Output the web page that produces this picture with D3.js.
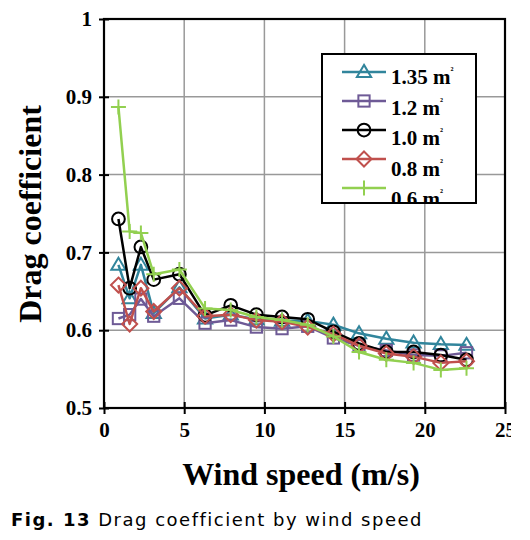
<!DOCTYPE html>
<html><head><meta charset="utf-8">
<script src="https://cdn.jsdelivr.net/npm/d3@7"></script>
<style>body{margin:0;background:#fff;} svg{display:block;}</style>
</head><body>
<script>
const windSpeed = [0.9,1.6,2.3,3.1,4.7,6.3,7.9,9.5,11.1,12.7,14.3,15.9,17.6,19.3,21.0,22.6];
const s135 = [0.684,0.641,0.684,0.622,0.655,0.615,0.62,0.614,0.612,0.612,0.607,0.596,0.589,0.584,0.582,0.581];
const s12  = [0.615,0.62,0.64,0.618,0.641,0.609,0.613,0.604,0.602,0.605,0.59,0.58,0.574,0.568,0.567,0.571];
const s10  = [0.743,0.654,0.707,0.665,0.672,0.619,0.632,0.62,0.617,0.614,0.598,0.583,0.572,0.572,0.568,0.562];
const s08  = [0.658,0.608,0.654,0.624,0.654,0.618,0.62,0.613,0.611,0.604,0.595,0.58,0.57,0.566,0.558,0.56];
const s06  = [0.887,0.727,0.725,0.672,0.678,0.628,0.626,0.617,0.613,0.607,0.592,0.572,0.562,0.558,0.549,0.551];
const seriesNames = ["1.35","1.2","1.0","0.8","0.6"];
const xTicks = [0,5,10,15,20,25];
const yTicks = [0.5,0.6,0.7,0.8,0.9,1];

const series = [
  {name:seriesNames[0], values:s135, color:"#31859C", marker:"triangle"},
  {name:seriesNames[1], values:s12,  color:"#6E5A96", marker:"square"},
  {name:seriesNames[2], values:s10,  color:"#000000", marker:"circle"},
  {name:seriesNames[3], values:s08,  color:"#C0504D", marker:"diamond"},
  {name:seriesNames[4], values:s06,  color:"#92D050", marker:"plus"}
];

const W=530, H=540;
const svg = d3.select("body").append("svg").attr("width",W).attr("height",H);
svg.append("defs").append("clipPath").attr("id","pageclip")
  .append("rect").attr("x",0).attr("y",0).attr("width",511).attr("height",H);
const root = svg.append("g").attr("clip-path","url(#pageclip)");

const L=104, R=505, T=19, B=408;
const x = d3.scaleLinear().domain([0,25]).range([L,R]);
const y = d3.scaleLinear().domain([0.5,1]).range([B,T]);
const serif = "'Liberation Serif','Times New Roman',serif";

// grid
root.append("g").selectAll("line").data(xTicks.slice(1,-1)).join("line")
  .attr("x1",d=>x(d)).attr("x2",d=>x(d)).attr("y1",T).attr("y2",B)
  .attr("stroke","#999").attr("stroke-width",1.5);
root.append("g").selectAll("line").data(yTicks.slice(1,-1)).join("line")
  .attr("x1",L).attr("x2",R).attr("y1",d=>y(d)).attr("y2",d=>y(d))
  .attr("stroke","#999").attr("stroke-width",1.5);

// axes
const xAxis = root.append("g").attr("transform",`translate(0,${B})`)
  .call(d3.axisBottom(x).tickValues(xTicks).tickSize(6).tickFormat(d3.format("d")));
xAxis.selectAll(".tick line").attr("y1",-6).attr("y2",6).attr("stroke-width",2);
xAxis.select(".domain").remove();
xAxis.selectAll("text").attr("y",14).attr("dy","0.71em")
  .attr("font-family",serif).attr("font-weight","bold").attr("font-size",21).attr("fill","#000");

const yAxis = root.append("g").attr("transform",`translate(${L},0)`)
  .call(d3.axisLeft(y).tickValues(yTicks).tickSize(6).tickFormat(d=>d===1?"1":d3.format(".1f")(d)));
yAxis.selectAll(".tick line").attr("x1",-5).attr("x2",5).attr("stroke-width",2);
yAxis.select(".domain").remove();
yAxis.selectAll("text").attr("x",-12)
  .attr("font-family",serif).attr("font-weight","bold").attr("font-size",21).attr("fill","#000");

// frame
root.append("rect").attr("x",L).attr("y",T).attr("width",R-L).attr("height",B-T)
  .attr("fill","none").attr("stroke","#000").attr("stroke-width",2.2);

// markers
function drawMarker(g, type, color, size){
  const s=size;
  if(type==="triangle"){
    g.append("path").attr("d",`M0,${-s*0.95}L${s*0.95},${s*0.65}L${-s*0.95},${s*0.65}Z`)
      .attr("fill","none").attr("stroke",color).attr("stroke-width",2);
  } else if(type==="square"){
    g.append("rect").attr("x",-s*0.75).attr("y",-s*0.75).attr("width",s*1.5).attr("height",s*1.5)
      .attr("fill","none").attr("stroke",color).attr("stroke-width",2);
  } else if(type==="circle"){
    g.append("circle").attr("r",s*0.85).attr("fill","none").attr("stroke",color).attr("stroke-width",2);
  } else if(type==="diamond"){
    g.append("path").attr("d",`M0,${-s}L${s},0L0,${s}L${-s},0Z`)
      .attr("fill","none").attr("stroke",color).attr("stroke-width",2);
  } else if(type==="plus"){
    g.append("path").attr("d",`M${-s},0H${s}M0,${-s}V${s}`)
      .attr("fill","none").attr("stroke",color).attr("stroke-width",2);
  }
}

const line = d3.line().x(d=>x(d[0])).y(d=>y(d[1]));
series.forEach(s=>{
  const pts = windSpeed.map((w,i)=>[w,s.values[i]]);
  const g = root.append("g");
  g.append("path").datum(pts).attr("d",line).attr("fill","none")
    .attr("stroke",s.color).attr("stroke-width",2.5).attr("stroke-linejoin","round");
  pts.forEach(p=>{
    const mg = g.append("g").attr("transform",`translate(${x(p[0])},${y(p[1])})`);
    drawMarker(mg, s.marker, s.color, 7.5);
  });
});

// legend
const lg = root.append("g");
const lx=322, ly=54, lw=154, lh=149;
lg.append("defs").append("clipPath").attr("id","legclip")
  .append("rect").attr("x",lx).attr("y",ly).attr("width",lw).attr("height",lh);
lg.append("rect").attr("x",lx).attr("y",ly).attr("width",lw).attr("height",lh)
  .attr("fill","#fff");
const rowY = d3.scalePoint().domain(seriesNames).range([72,188]);
const textY = d3.scalePoint().domain(seriesNames).range([84,206]);
const lgc = lg.append("g").attr("clip-path","url(#legclip)");
series.forEach(s=>{
  const yy = rowY(s.name);
  lgc.append("line").attr("x1",342).attr("x2",386).attr("y1",yy).attr("y2",yy)
    .attr("stroke",s.color).attr("stroke-width",2.5);
  const mg = lgc.append("g").attr("transform",`translate(364,${yy})`);
  drawMarker(mg, s.marker, s.color, 7.5);
  const t = lgc.append("text").attr("x",391).attr("y",textY(s.name))
    .attr("font-family",serif).attr("font-weight","bold").attr("font-size",21).attr("fill","#000");
  t.append("tspan").text(s.name+" m");
  t.append("tspan").attr("font-size",10).attr("dy",-10).text("²");
});
lg.append("rect").attr("x",lx).attr("y",ly).attr("width",lw).attr("height",lh)
  .attr("fill","none").attr("stroke","#000").attr("stroke-width",2);

// axis titles
root.append("text").attr("x",301).attr("y",485).attr("text-anchor","middle")
  .attr("font-family",serif).attr("font-weight","bold").attr("font-size",32).attr("fill","#000")
  .text("Wind speed (m/s)");
root.append("text").attr("transform","translate(41,214) rotate(-90)").attr("text-anchor","middle")
  .attr("font-family",serif).attr("font-weight","bold").attr("font-size",32).attr("fill","#000")
  .text("Drag coefficient");

// caption
const cap = root.append("text").attr("x",11).attr("y",526).attr("letter-spacing",1.5)
  .attr("font-family","'DejaVu Sans','Liberation Sans',sans-serif").attr("font-size",18).attr("fill","#000");
cap.append("tspan").attr("font-weight","bold").text("Fig. 13");
cap.append("tspan").text(" Drag coefficient by wind speed");
</script>
</body></html>
